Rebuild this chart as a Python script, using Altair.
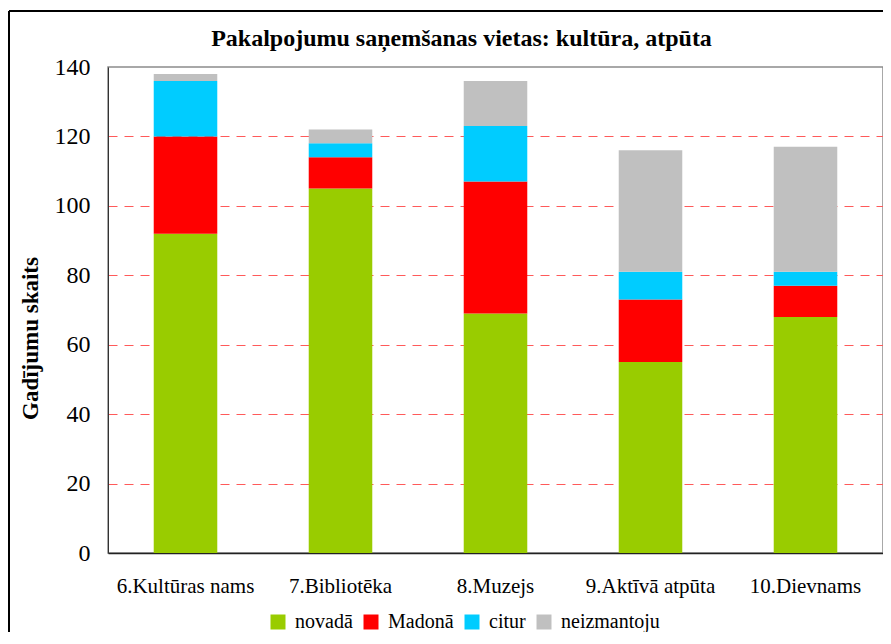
import altair as alt
import pandas as pd

categories = ["6.Kultūras nams", "7.Bibliotēka", "8.Muzejs", "9.Aktīvā atpūta", "10.Dievnams"]
series = ["novadā", "Madonā", "citur", "neizmantoju"]
colors = ["#99cc00", "#ff0000", "#00ccff", "#c0c0c0"]
novada = [92, 105, 69, 55, 68]
madona = [28, 9, 38, 18, 9]
citur = [16, 4, 16, 8, 4]
neizmantoju = [2, 4, 13, 35, 36]

rows = []
for si, (name, vals) in enumerate(zip(series, [novada, madona, citur, neizmantoju])):
    for c, v in zip(categories, vals):
        rows.append({"kategorija": c, "sērija": name, "vērtība": v, "kārta": si})
df = pd.DataFrame(rows)

FONT = "Liberation Serif"

bars = alt.Chart(df).mark_bar(width=alt.RelativeBandSize(0.41)).encode(
    x=alt.X("kategorija:N", sort=categories, title=None,
            scale=alt.Scale(paddingInner=0, paddingOuter=0),
            axis=alt.Axis(labelAngle=0, ticks=False, labelFontSize=21, labelFont=FONT,
                          labelColor="#000", labelPadding=22, domainColor="#222",
                          domainWidth=1.5, grid=False)),
    y=alt.Y("vērtība:Q", stack="zero", title="Gadījumu skaits",
            scale=alt.Scale(domain=[0, 140], nice=False),
            axis=alt.Axis(values=[0, 20, 40, 60, 80, 100, 120, 140], ticks=False,
                          labelFontSize=24, labelFont=FONT, labelColor="#000",
                          labelPadding=18, domainColor="#333", domainWidth=1,
                          grid=True, gridColor="#ff5a5a", gridDash=[9, 7], gridWidth=1,
                          gridOpacity={"condition": {"test": "datum.value == 0 || datum.value == 140", "value": 0}, "value": 1},
                          titleFont=FONT, titleFontSize=23, titleFontWeight="bold",
                          titleColor="#000", titleX=-71, titleY=271,
                          titleBaseline="alphabetic", titleAngle=270)),
    color=alt.Color("sērija:N", sort=series,
                    scale=alt.Scale(domain=series, range=colors),
                    legend=alt.Legend(title=None, orient="none", direction="horizontal",
                                      legendX=160, legendY=545, symbolType="square",
                                      symbolSize=225, symbolStrokeWidth=0,
                                      labelFont=FONT, labelFontSize=20, labelColor="#000",
                                      labelOffset=7, columnPadding=8)),
    order=alt.Order("kārta:Q", sort="ascending"),
)

frame_left = alt.Chart(df).mark_rule(color="#000", strokeWidth=2).encode(
    x=alt.value(-99), y=alt.value(-56), y2=alt.value(700))
frame_top = alt.Chart(df).mark_rule(color="#000", strokeWidth=2).encode(
    x=alt.value(-99), x2=alt.value(790), y=alt.value(-56))

chart = alt.layer(bars, frame_left, frame_top).properties(
    width=775, height=486,
    title=alt.TitleParams("Pakalpojumu saņemšanas vietas: kultūra, atpūta",
                          font=FONT, fontSize=24, fontWeight="bold", color="#000",
                          anchor="middle", frame="group", dx=-34, offset=-60,
                          baseline="alphabetic"),
    autosize=alt.AutoSizeParams(type="none"),
    padding={"left": 100, "top": 59, "right": 0, "bottom": 79},
).configure(background="white", font=FONT).configure_view(stroke="#8c8c8c", strokeWidth=1.5)

chart.save("out.html", embed_options={"renderer": "svg", "actions": False})
